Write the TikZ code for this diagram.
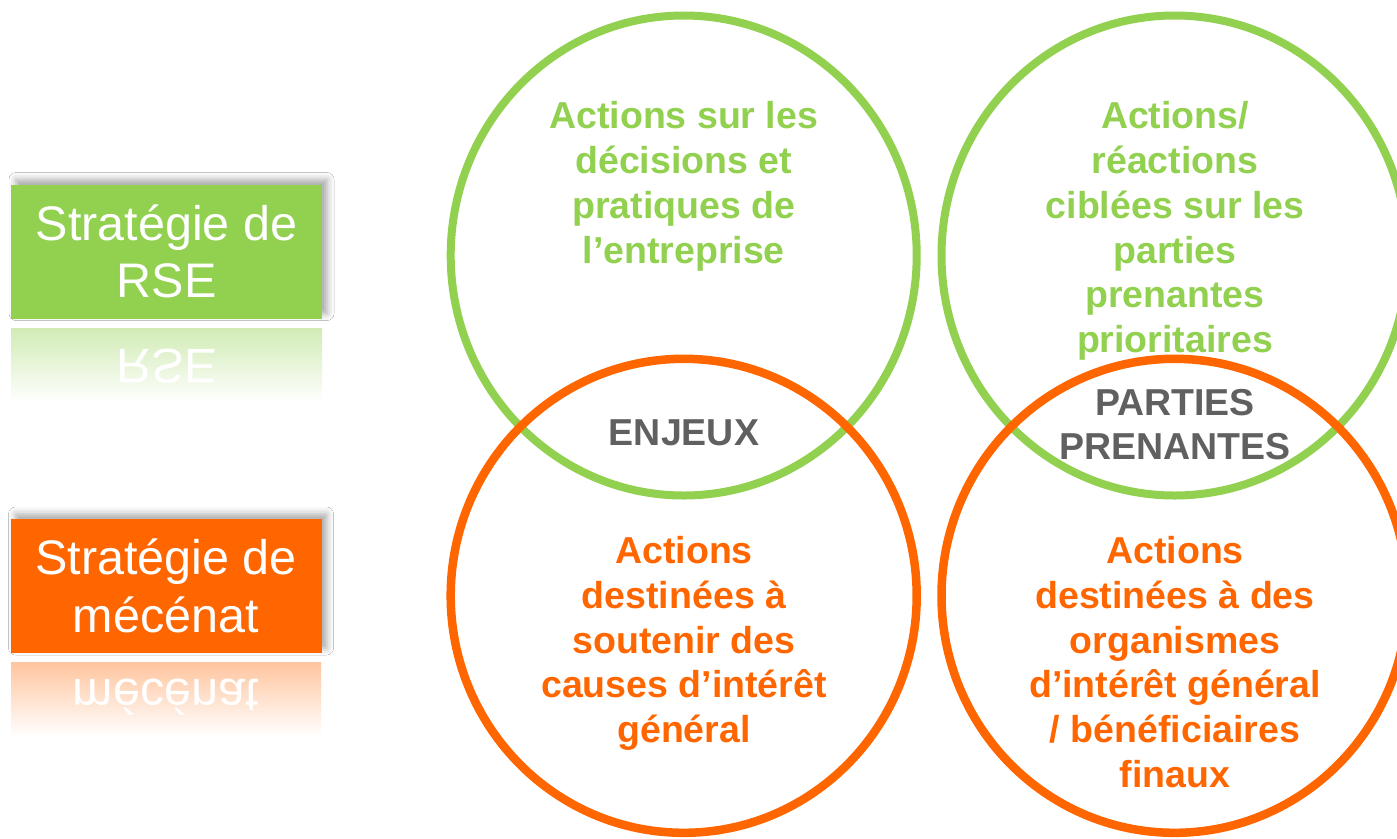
\documentclass[tikz,border=0pt]{standalone}
\usepackage{fontspec}
\setmainfont{Liberation Sans}
\usetikzlibrary{shapes.geometric,shadows.blur}
\definecolor{rsegreen}{RGB}{146,208,80}
\definecolor{mecorange}{RGB}{255,102,0}
\definecolor{txtgray}{RGB}{96,96,96}
\begin{document}
\begin{tikzpicture}[x=1pt,y=-1pt,
  greenring/.style={ellipse, draw=rsegreen, line width=8pt, minimum width=466pt, minimum height=480pt, inner sep=0pt},
  orangering/.style={ellipse, draw=mecorange, line width=8.5pt, minimum width=466pt, minimum height=474pt, inner sep=0pt},
  bodytext/.style={align=center, anchor=base, inner sep=0pt, font=\fontsize{37.5}{44.8}\selectfont\bfseries},
  stratbox/.style={minimum width=311pt, minimum height=134pt, inner sep=0pt, text=white, align=center,
    font=\fontsize{48.5}{57.5}\selectfont,
    blur shadow={shadow xshift=5pt, shadow yshift=5pt, shadow blur radius=7pt, shadow opacity=35}},
  mirrortext/.style={text=white, inner sep=0pt, font=\fontsize{48.5}{57.5}\selectfont}
]
\fill[white] (0,0) rectangle (1397,838);
\useasboundingbox (0,0) rectangle (1397,838);
\clip (0,0) rectangle (1397,838);

% left strategy boxes
\node[stratbox, fill=rsegreen] (rse) at (166.5,251.5) {Stratégie de\\RSE};
\shade[top color=rsegreen!42, bottom color=white] (11,328) rectangle (322,402);
\begin{scope}[shift={(166.5,366.5)}, yscale=-1, transform shape]
  \node[mirrortext] (rsemirror) at (0,0) {RSE};
\end{scope}

\node[stratbox, fill=mecorange] (mec) at (166,586) {Stratégie de\\mécénat};
\shade[top color=mecorange!38, bottom color=white] (11,662) rectangle (321,736);
\begin{scope}[shift={(166,697)}, yscale=-1, transform shape]
  \node[mirrortext] (mecmirror) at (0,0) {mécénat};
\end{scope}

% circles
\node[greenring] (gl) at (683.7,255.5) {};
\node[greenring] (gr) at (1174.5,255.5) {};
\node[orangering] (ol) at (683.7,595.8) {};
\node[orangering] (or) at (1174.5,595.8) {};

% texts (anchor=base is the baseline of the last line)
\node[bodytext, text=rsegreen] (t1) at (683.7,263.1) {Actions sur les\\décisions et\\pratiques de\\l’entreprise};
\node[bodytext, text=rsegreen] (t2) at (1175,352.7) {Actions/\\réactions\\ciblées sur les\\parties\\prenantes\\prioritaires};
\node[bodytext, text=txtgray] (enjeux) at (684,445.5) {ENJEUX};
\node[bodytext, text=txtgray] (pp) at (1175,459.8) {PARTIES\\PRENANTES};
\node[bodytext, text=mecorange] (t3) at (684,742.7) {Actions\\destinées à\\soutenir des\\causes d’intérêt\\général};
\node[bodytext, text=mecorange] (t4) at (1175,787.5) {Actions\\destinées à des\\organismes\\d’intérêt général\\/ bénéficiaires\\finaux};
\end{tikzpicture}
\end{document}
